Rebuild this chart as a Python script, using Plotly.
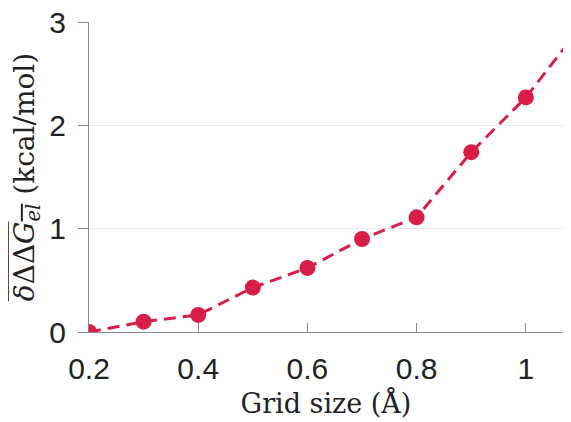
import plotly.graph_objects as go

grid_size = [0.2, 0.3, 0.4, 0.5, 0.6, 0.7, 0.8, 0.9, 1.0, 1.1]
ddg_el = [0.0, 0.10, 0.165, 0.43, 0.62, 0.90, 1.11, 1.74, 2.27, 2.95]
x_ticks = [0.2, 0.4, 0.6, 0.8, 1.0]
x_tick_labels = ["0.2", "0.4", "0.6", "0.8", "1"]
y_ticks = [0, 1, 2, 3]

color = "#D81E48"
serif = "DejaVu Serif, Liberation Serif, serif"

fig = go.Figure()
fig.add_trace(go.Scatter(
    x=grid_size, y=ddg_el, mode="lines+markers",
    line=dict(color=color, width=3, dash="12px,7px"),
    marker=dict(color=color, size=16),
    cliponaxis=True,
))

fig.update_layout(
    width=555, height=414,
    margin=dict(l=81, r=0, t=14, b=90, autoexpand=False),
    paper_bgcolor="white", plot_bgcolor="white",
    showlegend=False,
    font=dict(family="Liberation Sans, Arial, sans-serif", size=30, color="#222"),
)
fig.update_xaxes(
    range=[0.2, 1.068], tickvals=x_ticks, ticktext=x_tick_labels,
    showgrid=False, zeroline=False, automargin=False,
    showline=True, linecolor="#8a8a8a", linewidth=1,
    ticks="inside", ticklen=9, tickcolor="#8a8a8a",
    tickfont=dict(size=30, color="#222"),
    ticklabelstandoff=10, ticklabeloverflow="allow",
    title=dict(text="Grid size (Å)", font=dict(family=serif, size=27, color="#222"), standoff=10),
)
fig.update_yaxes(
    range=[0, 3], tickvals=y_ticks,
    showgrid=True, gridcolor="#e8e8e8", gridwidth=1, zeroline=False, automargin=False,
    showline=True, linecolor="#8a8a8a", linewidth=1,
    ticks="outside", ticklen=10, tickcolor="#8a8a8a",
    tickfont=dict(size=30, color="#222"),
    ticklabelstandoff=6, ticklabeloverflow="allow",
    title=dict(
        text="<span style='text-decoration:overline'><i>δ</i>ΔΔ<i>G</i><sub><i>el</i></sub></span> (kcal/mol)",
        font=dict(family=serif, size=28, color="#222"),
        standoff=6,
    ),
)

fig.write_html("out.html")
